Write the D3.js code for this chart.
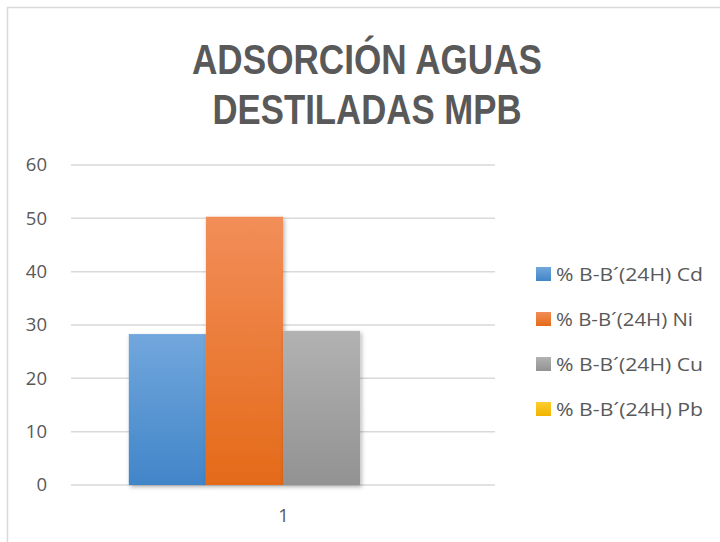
<!DOCTYPE html>
<html>
<head>
<meta charset="utf-8">
<script src="https://cdn.jsdelivr.net/npm/d3@7"></script>
<style>
  html, body { margin: 0; padding: 0; background: #fff; }
  svg { display: block; font-family: "Open Sans", sans-serif; }
</style>
</head>
<body>
<svg id="chart" width="720" height="542"></svg>
<script>
const categories = ["1"];
const seriesNames = [
  "% B-B´(24H) Cd",
  "% B-B´(24H) Ni",
  "% B-B´(24H) Cu",
  "% B-B´(24H) Pb",
];
const seriesValues = [[28.3], [50.3], [28.9], [0]];
const yTicks = [0, 10, 20, 30, 40, 50, 60];
const titleLines = ["ADSORCIÓN AGUAS", "DESTILADAS MPB"];

const colors = [
  { top: "#72a7dd", bottom: "#4185c8" },
  { top: "#f28e59", bottom: "#e46a19" },
  { top: "#b2b2b2", bottom: "#929292" },
  { top: "#ffcd2e", bottom: "#f0b400" },
];

const margin = { top: 165, right: 225, bottom: 57, left: 71 };
const width = 720;
const height = 542;

const svg = d3.select("#chart");
const defs = svg.append("defs");

colors.forEach((c, i) => {
  const g = defs
    .append("linearGradient")
    .attr("id", `grad${i}`)
    .attr("x1", 0)
    .attr("y1", 0)
    .attr("x2", 0)
    .attr("y2", 1);
  g.append("stop").attr("offset", "0%").attr("stop-color", c.top);
  g.append("stop").attr("offset", "100%").attr("stop-color", c.bottom);
});

defs
  .append("filter")
  .attr("id", "shadow")
  .attr("x", "-20%")
  .attr("y", "-20%")
  .attr("width", "140%")
  .attr("height", "140%")
  .append("feDropShadow")
  .attr("dx", 1.5)
  .attr("dy", 2)
  .attr("stdDeviation", 2)
  .attr("flood-color", "#000")
  .attr("flood-opacity", 0.3);

// chart area border
svg
  .append("path")
  .attr("d", `M7.5,${height} V7.5 H${width}`)
  .attr("fill", "none")
  .attr("stroke", "#d9d9d9")
  .attr("stroke-width", 1.5);

// title (two lines)
svg
  .selectAll("text.title")
  .data(titleLines)
  .join("text")
  .attr("class", "title")
  .attr("x", 367)
  .attr("y", (d, i) => 74 + i * 50)
  .attr("text-anchor", "middle")
  .attr("fill", "#595959")
  .attr("font-family", "'Liberation Sans', Arial, sans-serif")
  .attr("font-weight", 700)
  .attr("font-size", 42)
  .attr("textLength", (d, i) => (i === 0 ? 350 : 309))
  .attr("lengthAdjust", "spacingAndGlyphs")
  .text((d) => d);

const x0 = d3
  .scaleBand()
  .domain(categories)
  .range([margin.left, width - margin.right]);

const x1 = d3
  .scaleBand()
  .domain(d3.range(seriesNames.length))
  .range([0, x0.bandwidth()])
  .paddingInner(0)
  .paddingOuter(0.75);

const y = d3
  .scaleLinear()
  .domain([0, 60])
  .range([height - margin.bottom, margin.top]);

// gridlines
svg
  .append("g")
  .selectAll("line")
  .data(yTicks)
  .join("line")
  .attr("x1", margin.left)
  .attr("x2", width - margin.right)
  .attr("y1", (d) => y(d))
  .attr("y2", (d) => y(d))
  .attr("stroke", "#d9d9d9")
  .attr("stroke-width", 1.5);

// y tick labels
svg
  .append("g")
  .selectAll("text")
  .data(yTicks)
  .join("text")
  .attr("x", 47)
  .attr("y", (d) => y(d))
  .attr("dy", "0.35em")
  .attr("text-anchor", "end")
  .attr("fill", "#595959")
  .attr("font-size", 18.5)
  .text((d) => d);

// bars
const groups = svg
  .append("g")
  .selectAll("g")
  .data(categories)
  .join("g")
  .attr("transform", (d) => `translate(${x0(d)},0)`);

groups
  .selectAll("rect")
  .data((d, ci) => seriesValues.map((vals, si) => ({ si, value: vals[ci] })))
  .join("rect")
  .attr("x", (d) => x1(d.si))
  .attr("width", x1.bandwidth())
  .attr("y", (d) => y(d.value))
  .attr("height", (d) => y(0) - y(d.value))
  .attr("fill", (d) => `url(#grad${d.si})`)
  .attr("filter", "url(#shadow)");

// x axis label
svg
  .append("g")
  .selectAll("text")
  .data(categories)
  .join("text")
  .attr("x", (d) => x0(d) + x0.bandwidth() / 2 + 0.5)
  .attr("y", 522)
  .attr("text-anchor", "middle")
  .attr("fill", "#595959")
  .attr("font-size", 18.5)
  .text((d) => d);

// legend
const legend = svg
  .append("g")
  .selectAll("g")
  .data(seriesNames)
  .join("g")
  .attr("transform", (d, i) => `translate(536,${274 + i * 45})`);

legend
  .append("rect")
  .attr("x", 0)
  .attr("y", -7)
  .attr("width", 15)
  .attr("height", 14)
  .attr("fill", (d, i) => `url(#grad${i})`);

legend
  .append("text")
  .attr("x", 20)
  .attr("y", 0)
  .attr("dy", "0.36em")
  .attr("fill", "#595959")
  .attr("font-size", 18.5)
  .attr("textLength", (d) => (d.endsWith("Ni") ? 137 : 147))
  .attr("lengthAdjust", "spacingAndGlyphs")
  .text((d) => d);
</script>
</body>
</html>
